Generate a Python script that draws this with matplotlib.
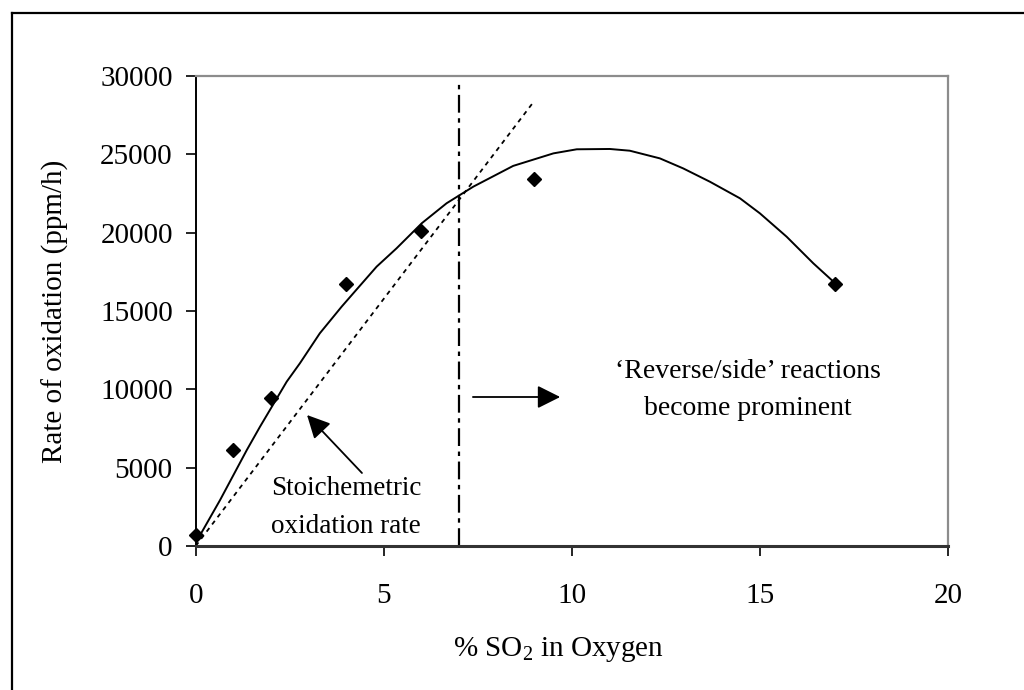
import matplotlib
matplotlib.use("Agg")
import matplotlib.pyplot as plt
from matplotlib.lines import Line2D

plt.rcParams["font.family"] = ["Liberation Serif", "DejaVu Serif"]
plt.rcParams["mathtext.fontset"] = "custom"
plt.rcParams["mathtext.rm"] = "Liberation Serif"

# measured points
so2_pct = [0, 1, 2, 4, 6, 9, 17]
rate = [700, 6100, 9450, 16750, 20100, 23450, 16750]

# trend curve
fit_x = [0, 0.65, 1.36, 1.71, 2.42, 2.77, 3.30, 3.88, 4.19, 4.81, 5.34, 6.01,
         6.67, 7.38, 8.44, 9.51, 10.13, 11.01, 11.54, 12.34, 12.96, 13.67,
         14.47, 15.0, 15.71, 16.42, 17.0]
fit_y = [200, 2940, 6130, 7615, 10490, 11660, 13576, 15276, 16130, 17830, 19000,
         20600, 21875, 22935, 24260, 25060, 25320, 25340, 25230, 24740, 24100,
         23250, 22190, 21230, 19740, 18040, 16770]

# stoichiometric line
stoich_x = [0, 9.0]
stoich_y = [0, 28400]

limit_x = 7
limit_top = 29600

fig = plt.figure(figsize=(10.24, 6.9), dpi=100)
ax = fig.add_axes([0.1911, 0.2087, 0.7347, 0.6812])

ax.plot(fit_x, fit_y, color="black", linewidth=1.4)
ax.plot(stoich_x, stoich_y, color="black", linewidth=1.3, dashes=(2.5, 2.5))
ax.plot([limit_x, limit_x], [0, limit_top], color="black", linewidth=1.6,
        dashes=(8, 2.5, 2, 2.5))
ax.plot(so2_pct, rate, linestyle="none", marker="D", markersize=7,
        color="black", zorder=5, clip_on=False)

ax.set_xlim(0, 20)
ax.set_ylim(0, 30000)
ax.set_xticks([0, 5, 10, 15, 20])
ax.set_yticks(range(0, 30001, 5000))
ax.tick_params(axis="both", labelsize=21, direction="out", width=1.2, color="black")
ax.tick_params(axis="x", length=7, pad=20)
ax.tick_params(axis="y", length=7.5, pad=9)

for side in ["top", "right"]:
    ax.spines[side].set_color("#8c8c8c")
    ax.spines[side].set_linewidth(1.6)
ax.spines["left"].set_linewidth(1.4)
ax.spines["bottom"].set_linewidth(2.2)
ax.spines["bottom"].set_color("#333333")

fig.text(0.5449, 1 - 650 / 690, "% $\\mathregular{SO_2}$ in Oxygen", fontsize=21,
         ha="center", va="center")
fig.text(55 / 1024, 1 - 311 / 690, "Rate of oxidation (ppm/h)", fontsize=21,
         rotation=90, ha="center", va="center")

# annotations
head = "-|>,head_length=1.4,head_width=0.7"
ax.annotate("", xy=(2.96, 8360), xytext=(4.42, 4660),
            arrowprops=dict(arrowstyle=head, color="black", lw=1.3,
                            shrinkA=0, shrinkB=0))
ax.annotate("", xy=(9.69, 9510), xytext=(7.37, 9510),
            arrowprops=dict(arrowstyle=head, color="black", lw=1.3,
                            shrinkA=0, shrinkB=0))
ax.text(4.0, 3255, "Stoichemetric", fontsize=19.5, ha="center", va="baseline")
ax.text(4.0, 830, "oxidation rate", fontsize=19.5, ha="center", va="baseline")
ax.text(14.68, 10724, "\u2018Reverse/side\u2019 reactions", fontsize=20,
        ha="center", va="baseline")
ax.text(14.68, 8362, "become prominent", fontsize=20, ha="center", va="baseline")

# outer frame (left and top edges fall inside the image)
fig.add_artist(Line2D([12 / 1024, 12 / 1024], [1 - 13 / 690, 0], color="black",
                      linewidth=1.6, transform=fig.transFigure))
fig.add_artist(Line2D([12 / 1024, 1], [1 - 13 / 690, 1 - 13 / 690], color="black",
                      linewidth=1.6, transform=fig.transFigure))

fig.savefig("out.png", dpi=100)
